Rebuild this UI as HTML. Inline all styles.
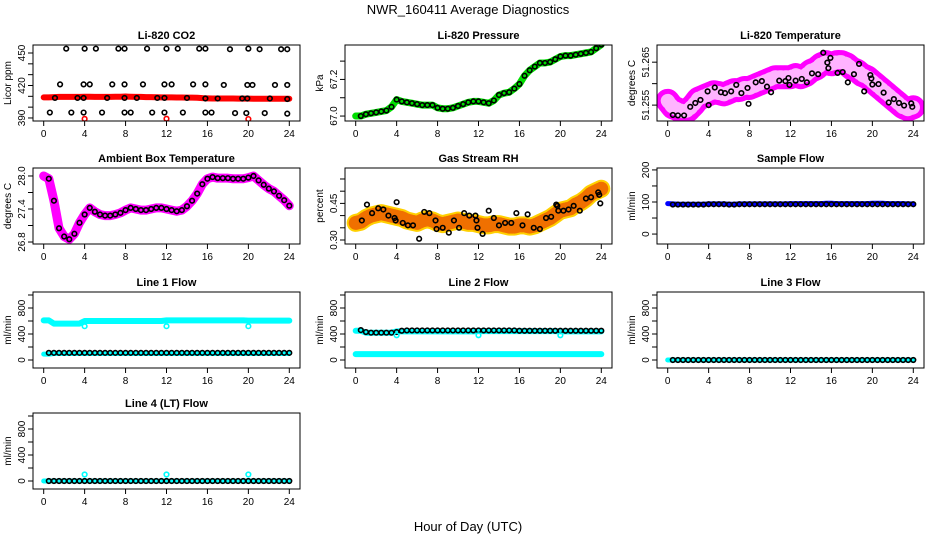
<!DOCTYPE html>
<html><head><meta charset="utf-8">
<style>
html,body{margin:0;padding:0;background:#fff;}
svg{display:block;font-family:"Liberation Sans",Arial,sans-serif;}
</style></head>
<body>
<svg id="chart" width="936" height="540" viewBox="0 0 936 540" xmlns="http://www.w3.org/2000/svg">
<text x="468" y="14" text-anchor="middle" font-size="13">NWR_160411  Average Diagnostics</text>
<text x="468" y="531" text-anchor="middle" font-size="13">Hour of Day (UTC)</text>
</svg>
<script>
// ---- data (hours 0..24 step 0.5 for dense series) ----
const hourTicks = [0,4,8,12,16,20,24];
const co2Dense = [409,409,409.2,409.5,409.5,409.5,409.5,409.5,409.6,409.6,409.5,409.5,409.5,409.5,409.6,409.6,409.8,409.6,409.5,409.5,409.3,409.2,409.1,409,409,409,408.9,408.9,408.8,408.8,408.7,408.3,408.1,408,408,408,408,408,407.9,407.9,407.9,407.8,407.8,407.8,407.8,407.8,407.8,407.8,407.8];
const co2BlackT = [2.2,4,5.1,7.3,7.9,10.1,12,13.1,15.2,15.8,18.2,20,21.1,23.2,23.8, 1.6,3.9,4.5,6.7,7.9,9.7,11.8,12.5,14.6,15.8,17.6,19.9,20.4,22.6,23.8, 1.1,3.3,3.9,6.2,7.9,9.1,11.1,11.8,14,15.8,17,19.4,19.9,22.1,23.8, 0.6,2.7,3.9,5.7,7.9,8.5,10.6,11.8,13.6,15.8,16.4,18.7,19.8,21.6,23.8];
const co2BlackV = [454,454,454,454,454,454,454,454,454,454,453.5,454,453.5,453.5,453.5, 421,421,421,421,421,421,421,421,421,421,420.5,420.5,420.5,420.5,420.5, 408.5,408.5,408.5,408.5,408.5,408.5,408.5,408.5,408.5,408,408,408,408,408,407.5, 395,395,395,395,395,395,395,395,395,395,395,394.5,394.5,394.5,394];
const co2RedT = [4,12,20];
const co2RedV = [389.2,389.3,389];
const presDense = [67.0,67.0,67.01,67.015,67.02,67.025,67.03,67.05,67.09,67.08,67.075,67.07,67.065,67.06,67.06,67.06,67.045,67.04,67.04,67.045,67.055,67.065,67.075,67.08,67.08,67.075,67.07,67.085,67.115,67.125,67.13,67.15,67.175,67.22,67.25,67.27,67.29,67.29,67.295,67.31,67.325,67.33,67.33,67.335,67.34,67.345,67.35,67.37,67.39];
const tempDense = [51.256,51.2545,51.254,51.2535,51.2538,51.255,51.2565,51.257,51.2575,51.258,51.2578,51.2575,51.258,51.2585,51.2585,51.259,51.259,51.2595,51.26,51.2605,51.261,51.2615,51.2615,51.2615,51.2615,51.262,51.2615,51.262,51.263,51.2635,51.2645,51.265,51.2645,51.265,51.265,51.2645,51.2635,51.263,51.262,51.2615,51.2605,51.2595,51.2585,51.2575,51.2565,51.2555,51.2545,51.254,51.2545];
const tempBlackT = [0.5,1,1.6,2.2,2.7,3.2,3.9,4,4.6,5.2,5.6,6.2,6.7,7.2,7.8,7.9,8.6,9.2,9.7,10.1,10.9,11.5,11.8,11.9,12.5,13.1,13.6,14.1,14.7,15.2,15.6,15.7,15.9,16.6,17.1,17.6,18.2,18.7,19.2,19.8,19.9,20,20.6,21.1,21.6,22.1,22.6,23.1,23.8,23.9];
const tempBlackV = [51.2527,51.2526,51.2526,51.2546,51.2555,51.2562,51.2582,51.255,51.2591,51.258,51.2578,51.2582,51.2597,51.2578,51.259,51.2553,51.2603,51.2606,51.2593,51.258,51.2607,51.2606,51.2613,51.2597,51.2607,51.2611,51.2603,51.2624,51.2622,51.2672,51.2649,51.2636,51.266,51.2625,51.2627,51.2603,51.2622,51.2646,51.2582,51.262,51.2612,51.2598,51.2599,51.2579,51.2556,51.2564,51.2555,51.2549,51.2554,51.2546];
const ambDense = [28.0,27.95,27.55,27.05,26.9,26.85,26.95,27.15,27.3,27.42,27.35,27.3,27.28,27.28,27.3,27.33,27.38,27.42,27.4,27.38,27.38,27.4,27.42,27.42,27.4,27.38,27.36,27.38,27.45,27.55,27.68,27.85,27.95,27.98,27.96,27.96,27.96,27.95,27.95,27.95,27.97,28.0,27.92,27.84,27.77,27.72,27.64,27.56,27.46];
const rhDense = [0.37,0.375,0.39,0.40,0.405,0.41,0.405,0.40,0.395,0.39,0.38,0.375,0.37,0.38,0.385,0.38,0.37,0.365,0.37,0.375,0.38,0.375,0.37,0.37,0.365,0.36,0.36,0.365,0.365,0.36,0.355,0.355,0.36,0.36,0.355,0.36,0.37,0.38,0.39,0.405,0.42,0.425,0.43,0.445,0.455,0.47,0.49,0.50,0.51];
const rhBlackT = [0.6,1.1,1.6,2.2,2.7,3.2,3.8,3.9,4,4.6,5.1,5.6,6.2,6.7,7.2,7.8,7.9,8.5,9.1,9.6,10.1,10.6,11.1,11.7,11.8,11.9,12.4,13,13.5,14,14.6,15.2,15.7,16.3,16.8,17.4,18,18.6,19.1,19.6,19.7,19.8,20.3,20.8,21.3,21.9,22.5,23,23.7,23.8,23.9];
const rhBlackV = [0.38,0.445,0.41,0.43,0.425,0.40,0.39,0.38,0.455,0.37,0.36,0.36,0.305,0.415,0.41,0.38,0.345,0.35,0.33,0.38,0.35,0.41,0.40,0.40,0.38,0.35,0.325,0.42,0.39,0.36,0.37,0.37,0.41,0.36,0.405,0.35,0.345,0.39,0.395,0.445,0.44,0.42,0.42,0.425,0.44,0.42,0.47,0.475,0.495,0.485,0.45];
const sampleDense = [95,94,93,93,93,93,93,93,94,94,94,94,93,93,94,94,94,94,94,94,94,94,94,94,95,95,95,95,95,95,95,96,96,95,95,95,95,95,95,95,96,96,96,95,95,95,95,94,94];
const sampleBlack = [93,92,92,92,92,92,92,92,93,93,93,93,92,92,93,93,93,93,93,93,93,93,93,93,93,93,93,93,93,93,93,93,93,93,93,93,93,93,93,93,93,93,93,93,93,93,93,93,93];
const l1CyanHi = [610,610,560,560,560,560,560,560,600,600,600,600,600,600,600,600,600,600,600,600,600,600,600,600,610,610,610,610,610,610,610,610,610,610,610,610,610,610,610,610,605,605,605,605,605,605,605,605,605];
const l1CyanLo = [90,90,100,100,100,100,100,100,100,100,100,100,100,100,100,100,100,100,100,100,100,100,100,100,100,100,100,100,100,100,100,100,100,100,100,100,100,100,100,100,100,100,100,100,100,100,100,100,100];
const l1Black = [110,110,110,110,110,110,110,110,110,110,110,110,110,110,110,110,110,110,110,110,110,110,110,110,110,110,110,110,110,110,110,110,110,110,110,110,110,110,110,110,110,110,110,110,110,110,110,110,110];
const l2CyanHi = [450,450,420,420,420,420,420,420,440,440,440,440,440,440,440,440,440,440,440,440,440,440,440,440,445,445,445,445,445,445,445,445,445,445,445,445,445,445,445,445,440,440,440,440,440,440,440,440,440];
const l2CyanLo = [90,90,90,90,90,90,90,90,90,90,90,90,90,90,90,90,90,90,90,90,90,90,90,90,90,90,90,90,90,90,90,90,90,90,90,90,90,90,90,90,90,90,90,90,90,90,90,90,90];
const l2Black = [460,460,430,420,420,420,420,420,430,450,455,455,455,455,455,455,455,455,455,455,455,455,455,455,455,455,455,455,455,455,455,455,450,450,450,450,450,450,450,450,450,450,450,450,450,450,450,450,450];
const l3Cyan = [0,0,0,0,0,0,0,0,0,0,0,0,0,0,0,0,0,0,0,0,0,0,0,0,0,0,0,0,0,0,0,0,0,0,0,0,0,0,0,0,0,0,0,0,0,0,0,0,0];
const l3Black = [0,0,0,0,0,0,0,0,0,0,0,0,0,0,0,0,0,0,0,0,0,0,0,0,0,0,0,0,0,0,0,0,0,0,0,0,0,0,0,0,0,0,0,0,0,0,0,0,0];
const l4Black = [0,0,0,0,0,0,0,0,0,0,0,0,0,0,0,0,0,0,0,0,0,0,0,0,0,0,0,0,0,0,0,0,0,0,0,0,0,0,0,0,0,0,0,0,0,0,0,0,0];
const calT = [4,12,20];
const l1CalV = [520,520,520];
const l2CalV = [380,380,380];
const l4CalV = [100,100,100];

const NS='http://www.w3.org/2000/svg';
const svg=document.getElementById('chart');
function mk(tag,attrs,parent){const e=document.createElementNS(NS,tag);for(const k in attrs)e.setAttribute(k,attrs[k]);(parent||svg).appendChild(e);return e;}
const denseT=[];for(let i=0;i<49;i++)denseT.push(i/2);

function panel(cfg){
  const W=267,H=76,x0=cfg.x,y0=cfg.y;
  const g=mk('g',{});
  
  
  const xs=t=>x0+10.7+t*(245.6/24);
  const ys=v=>y0+H-(v-cfg.ymin)/(cfg.ymax-cfg.ymin)*H;
  const clip='c'+cfg.name;
  const cp=mk('clipPath',{id:clip},g);mk('rect',{x:x0,y:y0,width:W,height:H},cp);
  const pg=mk('g',{'clip-path':'url(#'+clip+')'},g);
  cfg.draw(pg,xs,ys);
  const box=mk('rect',{x:x0,y:y0,width:W,height:H,fill:'none',stroke:'#000','stroke-width':1},g);
  
  
  const t=mk('text',{x:x0+W/2,y:y0-6,'text-anchor':'middle','font-size':11,'font-weight':'bold'},g);t.textContent=cfg.title;
  
  
  const xa=mk('g',{},g);
  
  
  mk('line',{x1:xs(0),x2:xs(24),y1:y0+H,y2:y0+H,stroke:'#000'},xa);
  hourTicks.forEach(h=>{mk('line',{x1:xs(h),x2:xs(h),y1:y0+H,y2:y0+H+5,stroke:'#000'},xa);
    const l=mk('text',{x:xs(h),y:y0+H+16,'text-anchor':'middle','font-size':10},xa);l.textContent=h;});
  const ya=mk('g',{},g);
  
  
  const tk=cfg.ticks;
  mk('line',{x1:x0,x2:x0,y1:ys(tk[0]),y2:ys(tk[tk.length-1]),stroke:'#000'},ya);
  tk.forEach(v=>{mk('line',{x1:x0-5,x2:x0,y1:ys(v),y2:ys(v),stroke:'#000'},ya);});
  cfg.labels.forEach(v=>{const l=mk('text',{x:x0-8,y:ys(v),'text-anchor':'middle','font-size':10,transform:'rotate(-90 '+(x0-8)+' '+ys(v)+')'},ya);l.textContent=cfg.fmt?cfg.fmt(v):v;});
  const yt=mk('text',{x:x0-22,y:y0+H/2,'text-anchor':'middle','font-size':10,transform:'rotate(-90 '+(x0-22)+' '+(y0+H/2)+')'},ya);yt.textContent=cfg.ylab;
  
  
}
function band(g,xs,ys,T,V,color,w,name,extra){
  const p=mk('polyline',Object.assign({points:T.map((t,i)=>xs(t)+','+ys(V[i])).join(' '),fill:'none',stroke:color,'stroke-width':w,'stroke-linejoin':'round','stroke-linecap':'round'},extra||{}),g);
  
  
}
function pts(g,xs,ys,T,V,color,name,skip0){
  const gg=mk('g',{},g);
  
  
  T.forEach((t,i)=>{if(skip0&&t<0.5)return;mk('circle',{cx:xs(t),cy:ys(V[i]),r:2.3,fill:'none',stroke:color,'stroke-width':1.6},gg);});
}
const C=[33,345,657],R=[45,168,292,413];
const flowTicks=[0,200,400,600,800,1000],flowLab=[0,400,800];
panel({name:'co2-panel',title:'Li-820 CO2',ylab:'Licor ppm',x:C[0],y:R[0],ymin:387.2,ymax:457.4,ticks:[390,400,410,420,430,440,450],labels:[390,420,450],
  draw:(g,xs,ys)=>{band(g,xs,ys,denseT,co2Dense,'#f00',6,'co2-red-series');pts(g,xs,ys,co2BlackT,co2BlackV,'#000','co2-black-points');pts(g,xs,ys,co2RedT,co2RedV,'#f00','co2-red-points');}});
panel({name:'pressure-panel',title:'Li-820 Pressure',ylab:'kPa',x:C[1],y:R[0],ymin:66.973,ymax:67.388,ticks:[67.0,67.1,67.2,67.3],labels:[67.0,67.2],fmt:v=>v.toFixed(1),
  draw:(g,xs,ys)=>{band(g,xs,ys,denseT,presDense,'#0d0',7,'pressure-green-series');pts(g,xs,ys,denseT,presDense,'#000','pressure-black-points',true);}});
panel({name:'temperature-panel',title:'Li-820 Temperature',ylab:'degrees C',x:C[2],y:R[0],ymin:51.2513,ymax:51.269,ticks:[51.255,51.26,51.265],labels:[51.255,51.265],fmt:v=>v.toFixed(3),
  draw:(g,xs,ys)=>{band(g,xs,ys,denseT,tempDense,'#f0f',24,'temperature-magenta-series',{'stroke-dasharray':'3 1'});band(g,xs,ys,denseT,tempDense,'#fff',14,'temperature-texture',{'stroke-dasharray':'1.5 4',opacity:0.7});pts(g,xs,ys,tempBlackT,tempBlackV,'#000','temperature-black-points');}});
panel({name:'ambient-panel',title:'Ambient Box Temperature',ylab:'degrees C',x:C[0],y:R[1],ymin:26.764,ymax:28.145,ticks:[26.8,27.1,27.4,27.7,28.0],labels:[26.8,27.4,28.0],fmt:v=>v.toFixed(1),
  draw:(g,xs,ys)=>{band(g,xs,ys,denseT,ambDense,'#f0f',9,'ambient-magenta-series');pts(g,xs,ys,denseT,ambDense,'#000','ambient-black-points',true);}});
panel({name:'rh-panel',title:'Gas Stream RH',ylab:'percent',x:C[1],y:R[1],ymin:0.2836,ymax:0.595,ticks:[0.30,0.35,0.40,0.45,0.50,0.55],labels:[0.30,0.45],fmt:v=>v.toFixed(2),
  draw:(g,xs,ys)=>{band(g,xs,ys,denseT,rhDense,'#ffd000',18,'rh-yellow-series');band(g,xs,ys,denseT,rhDense,'#f07000',14,'rh-orange-texture',{'stroke-dasharray':'1 1.5'});pts(g,xs,ys,rhBlackT,rhBlackV,'#000','rh-black-points');}});
panel({name:'sample-flow-panel',title:'Sample Flow',ylab:'ml/min',x:C[2],y:R[1],ymin:-31,ymax:206,ticks:[0,50,100,150,200],labels:[0,100,200],
  draw:(g,xs,ys)=>{band(g,xs,ys,denseT,sampleDense,'#00f',5,'sample-blue-series');pts(g,xs,ys,denseT,sampleBlack,'#000','sample-black-points',true);}});
panel({name:'line1-panel',title:'Line 1 Flow',ylab:'ml/min',x:C[0],y:R[2],ymin:-123,ymax:1046,ticks:flowTicks,labels:flowLab,
  draw:(g,xs,ys)=>{band(g,xs,ys,denseT,l1CyanHi,'#0ff',6,'line1-cyan-high');band(g,xs,ys,denseT,l1CyanLo,'#0ff',5,'line1-cyan-low');pts(g,xs,ys,denseT,l1Black,'#000','line1-black-points',true);pts(g,xs,ys,calT,l1CalV,'#0ff','line1-cal-points');}});
panel({name:'line2-panel',title:'Line 2 Flow',ylab:'ml/min',x:C[1],y:R[2],ymin:-123,ymax:1046,ticks:flowTicks,labels:flowLab,
  draw:(g,xs,ys)=>{band(g,xs,ys,denseT,l2CyanHi,'#0ff',6,'line2-cyan-high');band(g,xs,ys,denseT,l2CyanLo,'#0ff',6,'line2-cyan-low');pts(g,xs,ys,denseT,l2Black,'#000','line2-black-points',true);pts(g,xs,ys,calT,l2CalV,'#0ff','line2-cal-points');}});
panel({name:'line3-panel',title:'Line 3 Flow',ylab:'ml/min',x:C[2],y:R[2],ymin:-123,ymax:1046,ticks:flowTicks,labels:flowLab,
  draw:(g,xs,ys)=>{band(g,xs,ys,denseT,l3Cyan,'#0ff',5,'line3-cyan-series');pts(g,xs,ys,denseT,l3Black,'#000','line3-black-points',true);}});
panel({name:'line4-panel',title:'Line 4 (LT) Flow',ylab:'ml/min',x:C[0],y:R[3],ymin:-123,ymax:1046,ticks:flowTicks,labels:flowLab,
  draw:(g,xs,ys)=>{band(g,xs,ys,denseT,l3Cyan,'#0ff',5,'line4-cyan-series');pts(g,xs,ys,denseT,l4Black,'#000','line4-black-points',true);pts(g,xs,ys,calT,l4CalV,'#0ff','line4-cal-points');}});
</script>
</body></html>
